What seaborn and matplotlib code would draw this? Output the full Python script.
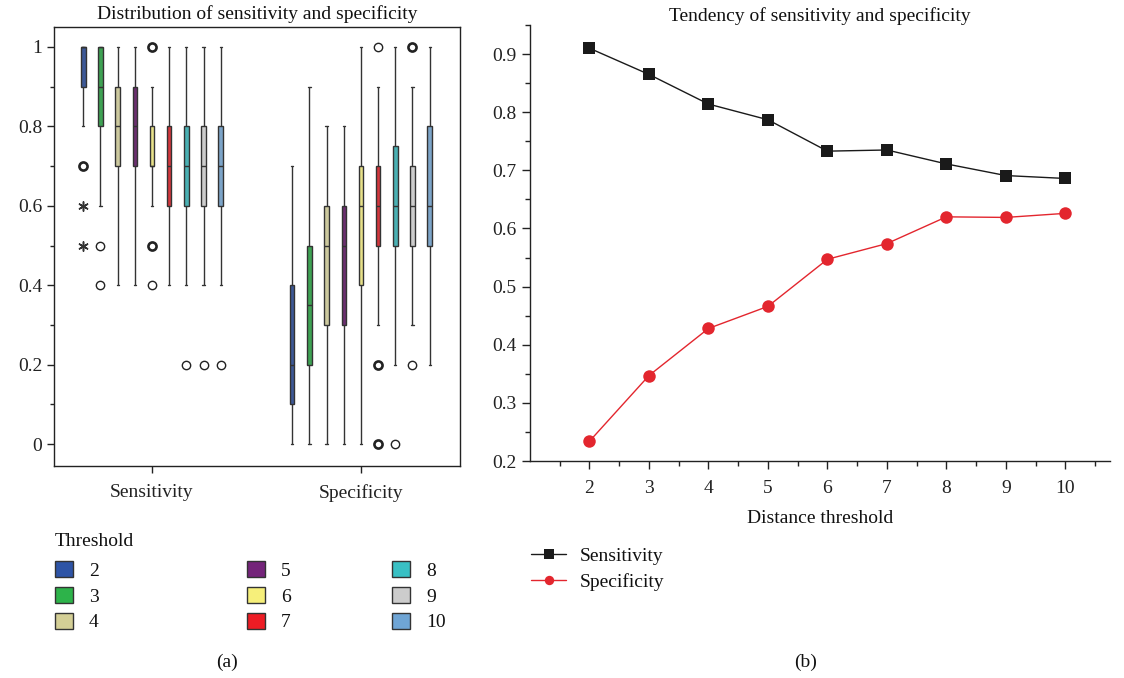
import numpy as np
import pandas as pd
import matplotlib
matplotlib.use("Agg")
import matplotlib.pyplot as plt
from matplotlib.patches import Patch
from matplotlib.ticker import MultipleLocator, FuncFormatter, FixedLocator
import seaborn as sns

# ---------------- data ----------------
thresholds = ["2", "3", "4", "5", "6", "7", "8", "9", "10"]
metrics = ["Sensitivity", "Specificity"]
threshold_colors = ["#2E54A6", "#2DB34A", "#D4CF96", "#74247A", "#F6EF7A",
                    "#ED1C24", "#39C0C4", "#CCCCCC", "#6FA5D5"]

# panel (a) box summaries: [lower whisker, Q1, median, Q3, upper whisker]
sens_box = [
    [0.8, 0.9, 1.0, 1.0, 1.0],
    [0.6, 0.8, 0.9, 1.0, 1.0],
    [0.4, 0.7, 0.8, 0.9, 1.0],
    [0.4, 0.7, 0.8, 0.9, 1.0],
    [0.6, 0.7, 0.7, 0.8, 0.9],
    [0.4, 0.6, 0.7, 0.8, 1.0],
    [0.4, 0.6, 0.7, 0.8, 1.0],
    [0.4, 0.6, 0.7, 0.8, 1.0],
    [0.4, 0.6, 0.7, 0.8, 1.0],
]
spec_box = [
    [0.0, 0.1, 0.2, 0.4, 0.7],
    [0.0, 0.2, 0.35, 0.5, 0.9],
    [0.0, 0.3, 0.5, 0.6, 0.8],
    [0.0, 0.3, 0.5, 0.6, 0.8],
    [0.0, 0.4, 0.6, 0.7, 1.0],
    [0.3, 0.5, 0.6, 0.7, 0.9],
    [0.2, 0.5, 0.6, 0.75, 1.0],
    [0.3, 0.5, 0.6, 0.7, 0.9],
    [0.2, 0.5, 0.6, 0.8, 1.0],
]

# panel (a) outliers
outlier_metric = ["Sensitivity"] * 11 + ["Specificity"] * 6
outlier_threshold = ["2", "2", "2", "3", "3", "6", "6", "6", "8", "9", "10",
                     "7", "7", "7", "8", "9", "9"]
outlier_value = [0.7, 0.6, 0.5, 0.5, 0.4, 1.0, 0.5, 0.4, 0.2, 0.2, 0.2,
                 1.0, 0.2, 0.0, 0.0, 1.0, 0.2]
outlier_count = [2, 1, 1, 1, 1, 2, 2, 1, 1, 1, 1,
                 1, 2, 2, 1, 2, 1]
outlier_extreme = [False, True, True, False, False, False, False, False, False, False, False,
                   False, False, False, False, False, False]

# panel (b)
dist_threshold = [2, 3, 4, 5, 6, 7, 8, 9, 10]
sensitivity = [0.910, 0.865, 0.814, 0.787, 0.733, 0.735, 0.711, 0.691, 0.686]
specificity = [0.234, 0.347, 0.428, 0.466, 0.547, 0.574, 0.620, 0.619, 0.626]

# ---------------- style ----------------
sns.set_theme(style="ticks")
plt.rcParams["font.family"] = ["Liberation Serif", "DejaVu Serif"]
plt.rcParams["font.size"] = 14
plt.rcParams["axes.edgecolor"] = "#222222"
plt.rcParams["axes.linewidth"] = 1.0
plt.rcParams["xtick.color"] = "#222222"
plt.rcParams["ytick.color"] = "#222222"
plt.rcParams["text.color"] = "#111111"
plt.rcParams["axes.labelcolor"] = "#111111"

W, H = 1124, 678
fig = plt.figure(figsize=(W / 100, H / 100), dpi=100)
ax1 = fig.add_axes([54 / W, 1 - 466 / H, 406 / W, 439 / H])
ax2 = fig.add_axes([530 / W, 1 - 461 / H, 580 / W, 436 / H])

palette = dict(zip(thresholds, threshold_colors))

# ---------------- panel (a) ----------------
rows = []
for mi, (m, boxes) in enumerate(zip(metrics, [sens_box, spec_box])):
    for t, vals in zip(thresholds, boxes):
        for v in vals:
            rows.append({"pos": mi, "threshold": t, "value": v})
df_box = pd.DataFrame(rows)

box_width = 0.74
sns.boxplot(data=df_box, x="pos", y="value", hue="threshold", hue_order=thresholds,
            palette=palette, native_scale=True, orient="x", width=box_width, gap=0.74,
            whis=(0, 100), showfliers=False, linewidth=1.0, linecolor="#333333",
            legend=False, ax=ax1)

each = box_width / len(thresholds)
df_out = pd.DataFrame({"metric": outlier_metric, "threshold": outlier_threshold,
                       "value": outlier_value, "count": outlier_count,
                       "extreme": outlier_extreme})
df_out["x"] = [metrics.index(m) + each * (thresholds.index(t) + 0.5) - box_width / 2
               for m, t in zip(df_out["metric"], df_out["threshold"])]

single = df_out[(~df_out["extreme"]) & (df_out["count"] == 1)]
multi = df_out[(~df_out["extreme"]) & (df_out["count"] > 1)]
extreme = df_out[df_out["extreme"]]
sns.scatterplot(data=single, x="x", y="value", marker="o", s=36, facecolor="white",
                edgecolor="#222222", linewidth=1.0, legend=False, ax=ax1, zorder=5)
sns.scatterplot(data=multi, x="x", y="value", marker="o", s=34, facecolor="white",
                edgecolor="#222222", linewidth=1.9, legend=False, ax=ax1, zorder=5)
sns.scatterplot(data=extreme, x="x", y="value", marker=(6, 2, 0), s=45,
                color="#333333", linewidth=1.1, legend=False, ax=ax1, zorder=5)

ax1.set_xlim(-0.469, 1.474)
ax1.set_ylim(-0.055, 1.05)
ax1.set_xticks([0, 1])
ax1.set_xticklabels(metrics)
ax1.yaxis.set_major_locator(MultipleLocator(0.2))
ax1.yaxis.set_minor_locator(MultipleLocator(0.1))
ax1.yaxis.set_major_formatter(FuncFormatter(lambda v, p: "%g" % round(v, 2)))
ax1.tick_params(axis="both", which="major", length=5, width=1, direction="out", labelsize=14)
ax1.tick_params(axis="x", pad=8)
ax1.tick_params(axis="y", which="minor", length=3, width=1, direction="out")
ax1.set_xlabel("")
ax1.set_ylabel("")
for s in ax1.spines.values():
    s.set_visible(True)
ax1.set_title("Distribution of sensitivity and specificity", fontsize=14, pad=6)

# legend for thresholds (three columns)
fig.text(55 / W, 1 - 541 / H, "Threshold", ha="left", va="center", fontsize=14)
handles = [Patch(facecolor=c, edgecolor="#333333", linewidth=1.0) for c in threshold_colors]
col_x = [55 / W, 247 / W, 392 / W]
leg_kw = dict(loc="upper left", frameon=False, fontsize=14,
              handlelength=0.9, handleheight=0.9, handletextpad=0.85,
              labelspacing=0.36, borderpad=0, borderaxespad=0)
for ci in range(3):
    hs = handles[ci * 3:(ci + 1) * 3]
    ls = thresholds[ci * 3:(ci + 1) * 3]
    fig.legend(hs, ls, bbox_to_anchor=(col_x[ci], 1 - 561 / H),
               bbox_transform=fig.transFigure, **leg_kw)

# ---------------- panel (b) ----------------
df_line = pd.DataFrame({
    "threshold": dist_threshold * 2,
    "value": sensitivity + specificity,
    "series": ["Sensitivity"] * len(dist_threshold) + ["Specificity"] * len(dist_threshold),
})
sns.lineplot(data=df_line, x="threshold", y="value", hue="series", style="series",
             markers={"Sensitivity": "s", "Specificity": "o"}, dashes=False,
             palette={"Sensitivity": "#1a1a1a", "Specificity": "#E3262E"},
             markersize=9, markeredgewidth=0, linewidth=1.0, legend=False, ax=ax2)

ax2.set_xlim(1, 10.75)
ax2.set_ylim(0.2, 0.95)
ax2.xaxis.set_major_locator(FixedLocator(dist_threshold))
ax2.xaxis.set_minor_locator(FixedLocator([1.5 + i for i in range(10)]))
ax2.yaxis.set_major_locator(MultipleLocator(0.1))
ax2.yaxis.set_minor_locator(MultipleLocator(0.05))
ax2.yaxis.set_major_formatter(FuncFormatter(lambda v, p: "%g" % round(v, 2)))
ax2.tick_params(axis="both", which="major", length=6, width=1, direction="out", labelsize=14)
ax2.tick_params(axis="both", which="minor", length=3.5, width=1, direction="out")
ax2.tick_params(axis="x", pad=8)
sns.despine(ax=ax2)
ax2.set_xlabel("Distance threshold", fontsize=14, labelpad=9)
ax2.set_ylabel("")
ax2.set_title("Tendency of sensitivity and specificity", fontsize=14, pad=3)

lines = ax2.get_lines()[:2]
fig.legend(lines, ["Sensitivity", "Specificity"], loc="upper left",
           bbox_to_anchor=(531 / W, 1 - 547 / H), bbox_transform=fig.transFigure,
           frameon=False, fontsize=14, handlelength=1.8, handletextpad=0.7,
           labelspacing=0.45, borderpad=0, borderaxespad=0, markerscale=0.75)

fig.text(227 / W, 1 - 662 / H, "(a)", ha="center", va="center", fontsize=14)
fig.text(806 / W, 1 - 662 / H, "(b)", ha="center", va="center", fontsize=14)

fig.savefig("out.png", dpi=100)
